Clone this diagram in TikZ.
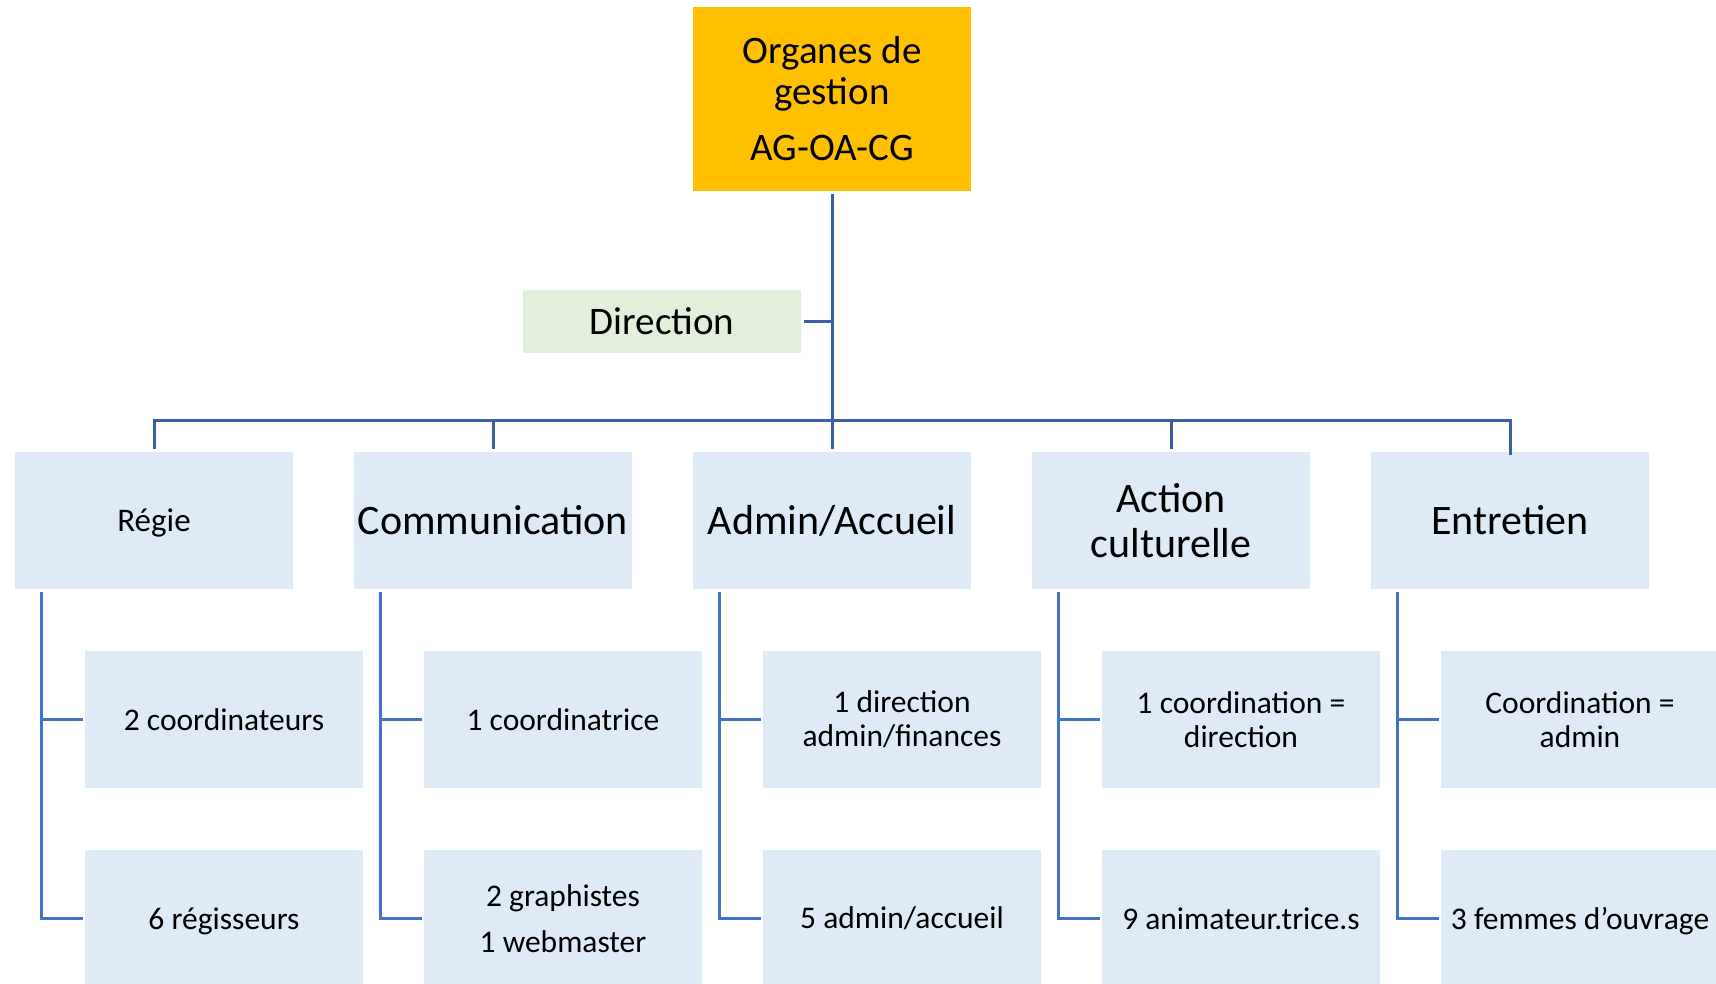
\documentclass[tikz,border=0pt]{standalone}
\usepackage{fontspec}
\setmainfont{Carlito}
\definecolor{orgorange}{HTML}{FFC000}
\definecolor{orggreen}{HTML}{E2EFDA}
\definecolor{orgblue}{HTML}{DEEBF7}
\definecolor{trunk}{HTML}{3B5FA6}
\definecolor{branch}{HTML}{4472C4}
\begin{document}
\begin{tikzpicture}[x=1pt,y=-1pt,
  box/.style={fill=orgblue, minimum width=278pt, minimum height=137pt, inner sep=0pt, align=center, text=black},
  head/.style={box, font=\fontsize{42}{45}\selectfont},
  staff/.style={box, font=\fontsize{31.5}{34}\selectfont},
  % single lines with descenders are set on the same baseline as the others
  lowtext/.style={text depth=0pt, text height=#1},
  trunkline/.style={draw=trunk, line width=3pt},
  branchline/.style={draw=branch, line width=2.8pt}]
\useasboundingbox (0,0) rectangle (1716,984);

% governing bodies and direction
\node[fill=orgorange, minimum width=278pt, minimum height=184pt, inner sep=0pt, align=center,
      font=\fontsize{39}{41}\selectfont] (top) at (832,99) {Organes de\\gestion\\[15pt]AG-OA-CG};
\node[fill=orggreen, minimum width=278pt, minimum height=63pt, inner sep=0pt,
      font=\fontsize{39}{41}\selectfont] (dir) at (662,321.5) {Direction};

% departments
\node[box, font=\fontsize{33}{36}\selectfont, lowtext=22pt] (reg) at (154,520.5) {Régie};
\node[head] (com) at (493,520.5) {Communication};
\node[head] (adm) at (832,520.5) {Admin/Accueil};
\node[head] (act) at (1171,520.5) {Action\\culturelle};
\node[head] (ent) at (1510,520.5) {Entretien};

% staff
\node[staff] (reg1) at (224,719.5) {2 coordinateurs};
\node[staff, lowtext=21pt] (reg2) at (224,918.5) {6 régisseurs};
\node[staff] (com1) at (563,719.5) {1 coordinatrice};
\node[staff, font=\fontsize{31.5}{46}\selectfont] (com2) at (563,918.5) {2 graphistes\\1 webmaster};
\node[staff] (adm1) at (902,719.5) {1 direction\\admin/finances};
\node[staff] (adm2) at (902,918.5) {5 admin/accueil};
\node[staff] (act1) at (1241,719.5) {1 coordination =\\direction};
\node[staff] (act2) at (1241,918.5) {9 animateur.trice.s};
\node[staff] (ent1) at (1580,719.5) {Coordination =\\admin};
\node[staff, lowtext=21pt] (ent2) at (1580,918.5) {3 femmes d’ouvrage};

% main tree
\draw[trunkline, shorten <=3pt, shorten >=3pt] (top.south) -- (adm.north);
\draw[trunkline, shorten <=3pt] (dir.east) -- (dir.east -| top.south);
\draw[trunkline, shorten <=3pt] (reg.north) -- ++(0,-31) -| ([yshift=-3pt]ent.north);
\foreach \d in {com,act}
  \draw[trunkline, shorten <=3pt] (\d.north) -- ++(0,-31);

% staff brackets
\foreach \d in {reg,com,adm,act,ent} {
  \draw[branchline, shorten <=3pt, shorten >=2pt] ([xshift=27pt]\d.south west) |- (\d2.west);
  \draw[branchline, shorten >=2pt] ([xshift=27pt]\d.south west |- \d1.west) -- (\d1.west);
}
\end{tikzpicture}
\end{document}
